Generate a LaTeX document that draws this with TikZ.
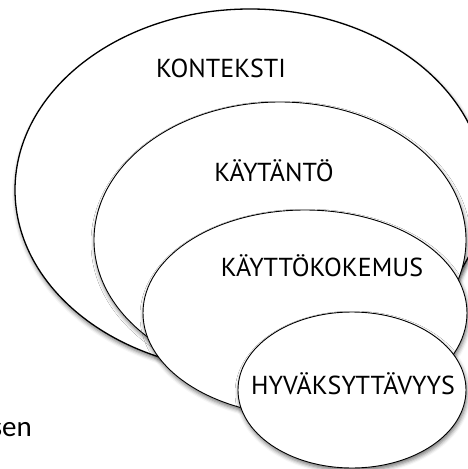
\documentclass[tikz,border=0pt]{standalone}
\usepackage{fontspec}
\setmainfont{PT Sans}
\newfontfamily\notefont{Carlito}
\usetikzlibrary{shadows.blur}

\tikzset{
  layer/.style={draw=black, fill=white, line width=0.9pt,
    blur shadow={shadow xshift=1pt, shadow yshift=-3pt,
      shadow blur radius=4pt, shadow opacity=55}},
  layerlabel/.style={anchor=base, inner sep=0pt, font=\fontsize{26}{26}\selectfont}
}

\begin{document}
\begin{tikzpicture}[x=1pt, y=-1pt]
      \useasboundingbox (0,0) rectangle (467,469);

      % Draw the nested layers, outermost first
      \foreach \cx/\cy/\rx/\ry/\lw in {250/190/235/181/1.3, 280/240/186/138/0.9,
                                      305/313/162/103/0.9, 352/390/114/78/0.9} {
          \draw[layer, line width=\lw pt] (\cx,\cy) ellipse [x radius=\rx pt, y radius=\ry pt];
      }

      % Add labels for the layers
      \node[layerlabel] (konteksti) at (221,77) {KONTEKSTI};
      \node[layerlabel] (kaytanto) at (274,181) {KÄYTÄNTÖ};
      \node[layerlabel] (kayttokokemus) at (322,276) {KÄYTTÖKOKEMUS};
      \node[layerlabel] (hyvaksyttavyys) at (353,394) {HYVÄKSYTTÄVYYS};

      % Leftover word at the edge
      \node[anchor=base east, inner sep=0pt, font=\notefont\fontsize{29}{29}\selectfont] (sen) at (32,436) {sen};
    \end{tikzpicture}
\end{document}
